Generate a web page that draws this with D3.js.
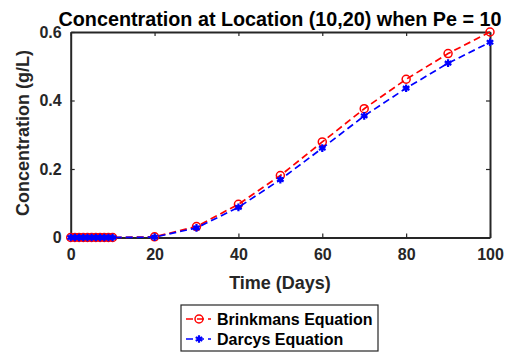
<!DOCTYPE html>
<html><head><meta charset="utf-8">
<script src="https://cdn.jsdelivr.net/npm/d3@7"></script>
<style>body{margin:0;background:#fff}svg{display:block;font-family:Arial,"Liberation Sans",Helvetica,sans-serif}</style>
</head><body><svg id="c" width="520" height="353"></svg>
<script>
const time = [0,1,2,3,4,5,6,7,8,9,10,20,30,40,50,60,70,80,90,100];
const brinkmans = [0,0,0,0,0,0,0,0,0,0,0,0.002,0.032,0.097,0.181,0.279,0.376,0.462,0.537,0.600];
const darcys    = [0,0,0,0,0,0,0,0,0,0,0,0.001,0.028,0.088,0.169,0.261,0.355,0.436,0.509,0.570];
const xTicks = [0,20,40,60,80,100];
const yTicks = [0,0.2,0.4,0.6];
const seriesNames = ["Brinkmans Equation","Darcys Equation"];
const seriesColors = ["#ff0000","#0000ff"];

const svg = d3.select("#c");
const L=70.7,R=490,T=32,B=237.5;
const x = d3.scaleLinear().domain([0,100]).range([L,R]);
const y = d3.scaleLinear().domain([0,0.6]).range([B,T]);
const axisColor="#262626";

svg.append("text").attr("x",280).attr("y",26).attr("text-anchor","middle")
  .attr("font-size",19.5).attr("font-weight","bold").attr("fill","#000")
  .attr("textLength",443).attr("lengthAdjust","spacingAndGlyphs")
  .text("Concentration at Location (10,20) when Pe = 10");

const tickLen=4;
const gx=svg.append("g").attr("transform",`translate(0,${B})`)
  .call(d3.axisBottom(x).tickValues(xTicks).tickSizeInner(-tickLen).tickSizeOuter(0).tickPadding(11).tickFormat(d3.format("d")));
const gxt=svg.append("g").attr("transform",`translate(0,${T})`)
  .call(d3.axisTop(x).tickValues(xTicks).tickSizeInner(-tickLen).tickSizeOuter(0).tickFormat(""));
const gy=svg.append("g").attr("transform",`translate(${L},0)`)
  .call(d3.axisLeft(y).tickValues(yTicks).tickSizeInner(-tickLen).tickSizeOuter(0).tickPadding(9).tickFormat(d=>d===0?"0":d3.format(".1f")(d)));
const gyr=svg.append("g").attr("transform",`translate(${R},0)`)
  .call(d3.axisRight(y).tickValues(yTicks).tickSizeInner(-tickLen).tickSizeOuter(0).tickFormat(""));
[gx,gxt,gy,gyr].forEach(g=>{
  g.selectAll("path").attr("stroke",axisColor).attr("stroke-width",2);
  g.selectAll("line").attr("stroke",axisColor).attr("stroke-width",1.2);
  g.selectAll("text").attr("font-size",16).attr("font-weight","bold").attr("fill","#262626").attr("font-family",'Arial,"Liberation Sans",sans-serif');
});

svg.append("text").attr("x",280).attr("y",289).attr("text-anchor","middle")
  .attr("font-size",18).attr("font-weight","bold").attr("fill","#262626").text("Time (Days)");
svg.append("text").attr("transform",`translate(29,133) rotate(-90)`).attr("text-anchor","middle")
  .attr("font-size",18).attr("font-weight","bold").attr("fill","#262626").text("Concentration (g/L)");

const line=d3.line().x((d,i)=>x(time[i])).y(d=>y(d));
const star = d3.symbol().type(d3.symbolAsterisk).size(40);
function marker(g,cx,cy,color,kind){
  if(kind==="o"){
    g.append("circle").attr("cx",cx).attr("cy",cy).attr("r",4).attr("fill","none").attr("stroke",color).attr("stroke-width",1.5);
  } else {
    g.append("path").attr("d",star()).attr("transform",`translate(${cx},${cy})`).attr("fill","none").attr("stroke",color).attr("stroke-width",2.2);
    g.append("circle").attr("cx",cx).attr("cy",cy).attr("r",2.4).attr("fill",color);
  }
}
function drawSeries(vals,color,kind){
  svg.append("path").datum(vals).attr("d",line).attr("fill","none").attr("stroke",color)
    .attr("stroke-width",1.7).attr("stroke-dasharray","7,4");
  const g=svg.append("g");
  vals.forEach((v,i)=>marker(g,x(time[i]),y(v),color,kind));
}
drawSeries(brinkmans,seriesColors[0],"o");
drawSeries(darcys,seriesColors[1],"*");

// legend
const lg=svg.append("g");
lg.append("rect").attr("x",181).attr("y",305).attr("width",197).attr("height",46).attr("fill","#fff").attr("stroke",axisColor).attr("stroke-width",1.2);
seriesNames.forEach((n,i)=>{
  const yy=319+i*20;
  lg.append("line").attr("x1",185).attr("x2",211).attr("y1",yy).attr("y2",yy).attr("stroke",seriesColors[i]).attr("stroke-width",1.7).attr("stroke-dasharray","7,4").attr("stroke-dashoffset",-1);
  marker(lg,199,yy,seriesColors[i],i===0?"o":"*");
  lg.append("text").attr("x",217).attr("y",yy+5.5).attr("font-size",16).attr("font-weight","bold").attr("fill","#000").text(n);
});
</script></body></html>
